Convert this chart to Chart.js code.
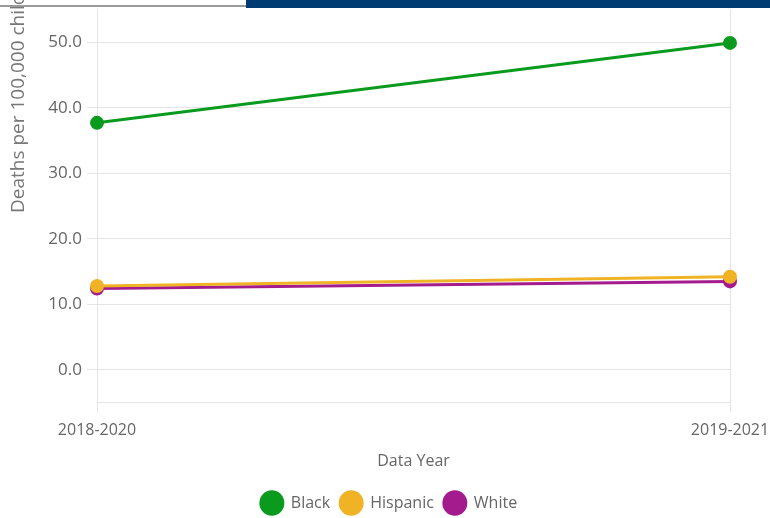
<!DOCTYPE html>
<html>
<head>
<meta charset="utf-8">
<script src="https://cdn.jsdelivr.net/npm/chart.js@4"></script>
<style>
  html, body { margin: 0; padding: 0; background: #fff; }
  #wrap { position: relative; width: 770px; height: 518px; overflow: hidden; }
  #topline { position: absolute; left: 0; top: 5px; width: 246px; height: 2px; background: #9a9a9a; }
  #topbar { position: absolute; left: 246px; top: 0; width: 524px; height: 8px; background: #003b72; }
</style>
</head>
<body>
<div id="wrap">
  <canvas id="deathsChart" width="770" height="518"></canvas>
  <div id="topline"></div>
  <div id="topbar"></div>
</div>
<script>
// data
const years = ['2018-2020', '2019-2021'];
const blackRates = [37.7, 49.9];
const hispanicRates = [12.8, 14.2];
const whiteRates = [12.4, 13.5];
const yTicks = [0, 10, 20, 30, 40, 50];

const yTitle = 'Deaths per 100,000 children';
const font = "'Open Sans', sans-serif";

// y title drawn by hand so it sits where the reference has it (top is cut off there)
const yTitlePlugin = {
  id: 'yTitle',
  afterDraw(chart) {
    const ctx = chart.ctx;
    ctx.save();
    ctx.translate(19, 213);
    ctx.rotate(-Math.PI / 2);
    ctx.font = '19px ' + font;
    ctx.fillStyle = '#777';
    ctx.textAlign = 'left';
    ctx.textBaseline = 'middle';
    ctx.fillText(yTitle, 0, 0);
    ctx.restore();
  }
};

function line(label, data, color) {
  return {
    label: label,
    data: data,
    borderColor: color,
    backgroundColor: color,
    borderWidth: 3,
    pointRadius: 5.5,
    pointHoverRadius: 5.5,
    pointBorderWidth: 3,
    pointBorderColor: color,
    pointBackgroundColor: color,
    tension: 0,
    fill: false
  };
}

const ctx = document.getElementById('deathsChart').getContext('2d');
new Chart(ctx, {
  type: 'line',
  data: {
    labels: years,
    datasets: [
      line('Black', blackRates, '#0a9b1e'),
      line('Hispanic', hispanicRates, '#f0b326'),
      line('White', whiteRates, '#a41b8e')
    ]
  },
  options: {
    responsive: false,
    animation: false,
    layout: { padding: { left: 0, right: -8, top: 0, bottom: -3 } },
    plugins: {
      tooltip: { enabled: false },
      legend: {
        position: 'bottom',
        labels: {
          usePointStyle: true,
          pointStyle: 'circle',
          pointStyleWidth: 22,
          color: '#666',
          font: { family: font, size: 16 },
          padding: 10
        }
      }
    },
    scales: {
      x: {
        offset: false,
        afterFit(scale) { scale.paddingLeft = 0; scale.paddingRight = 40; },
        grid: { color: '#e4e4e4', tickLength: 10 },
        border: { color: '#e4e4e4' },
        ticks: { color: '#666', font: { family: font, size: 16 }, padding: 8, maxRotation: 0 },
        title: { display: true, text: 'Data Year', color: '#666', font: { family: font, size: 16 }, padding: { top: 4, bottom: 14 } }
      },
      y: {
        min: -5,
        max: 55,
        afterBuildTicks(scale) { scale.ticks = yTicks.map(v => ({ value: v })); },
        afterFit(scale) { scale.width = 97; scale.paddingTop = 9.5; scale.paddingBottom = 0; },
        grid: { color: '#e4e4e4', tickLength: 10 },
        border: { color: '#e4e4e4' },
        ticks: {
          color: '#666',
          font: { family: font, size: 17 },
          padding: 5,
          callback: v => v.toFixed(1)
        }
      }
    }
  },
  plugins: [yTitlePlugin]
});
</script>
</body>
</html>
